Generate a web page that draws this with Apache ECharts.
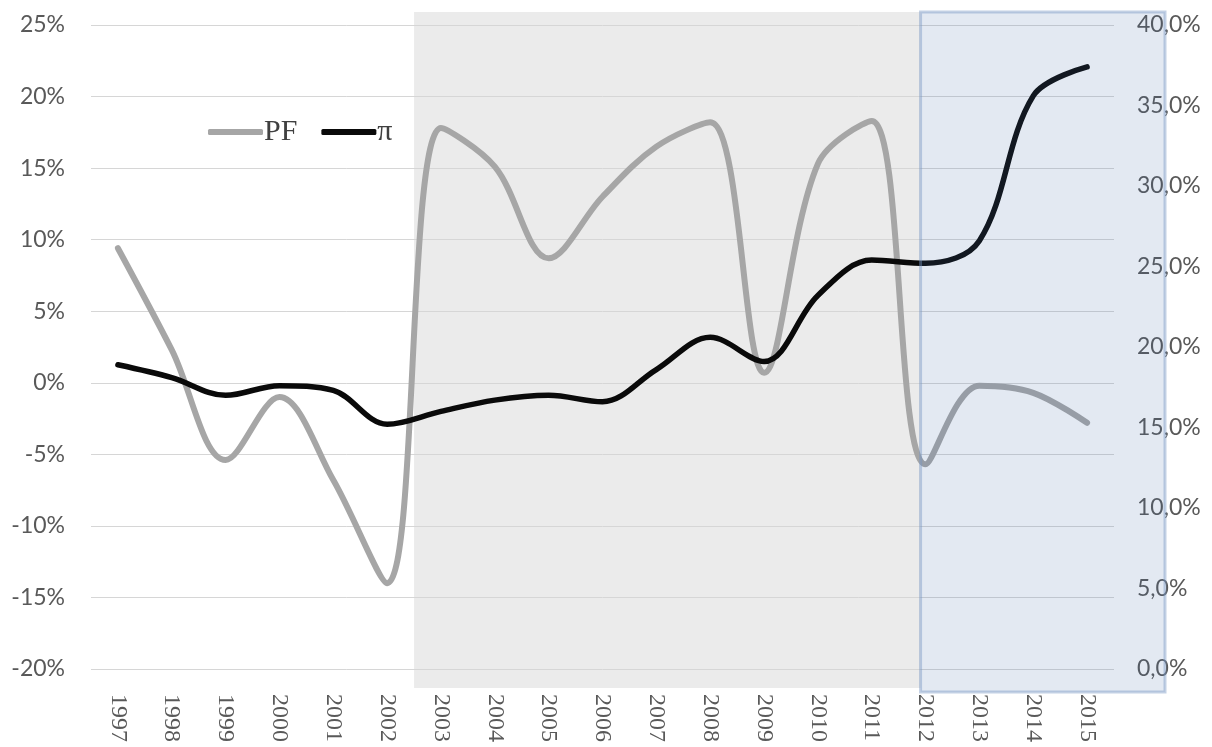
<!DOCTYPE html>
<html>
<head>
<meta charset="utf-8">
<script src="https://cdn.jsdelivr.net/npm/echarts@6/dist/echarts.min.js"></script>
<style>
html,body{margin:0;padding:0;background:#fff;}
#chart{width:1212px;height:747px;}
</style>
</head>
<body>
<div id="chart"></div>
<script>
const years = ['1997','1998','1999','2000','2001','2002','2003','2004','2005','2006','2007','2008','2009','2010','2011','2012','2013','2014','2015'];
const pfValues = [9.4, 2.3, -5.4, -1.0, -6.8, -14.0, 17.8, 15.1, 8.7, 13.0, 16.5, 18.2, 0.7, 15.3, 18.3, -5.7, -0.2, -0.7, -2.8];
const piValues = [18.9, 18.1, 17.0, 17.6, 17.3, 15.2, 16.0, 16.7, 17.0, 16.6, 18.6, 20.6, 19.1, 23.2, 25.4, 25.2, 26.6, 35.6, 37.4];
const leftTicks = {min: -20, max: 25, interval: 5};
const rightTicks = {min: 0, max: 40, interval: 5};
const seriesNames = ['PF', 'π'];
const grayStart = ['2002', '2003'];
const blueStart = '2012';

const chart = echarts.init(document.getElementById('chart'), null, {renderer: 'canvas'});
const labelColor = '#595959';
const option = {
  animation: false,
  backgroundColor: '#ffffff',
  grid: {left: 91, right: 98, top: 25, bottom: 78},
  legend: {
    left: 203, top: 112,
    itemWidth: 55, itemHeight: 6, itemGap: 24,
    icon: 'roundRect',
    textStyle: {fontFamily: 'Liberation Serif', fontSize: 30, color: '#404040', padding: [0,0,0,-4]},
    data: seriesNames
  },
  xAxis: {
    type: 'category',
    data: years,
    boundaryGap: true,
    axisLine: {show: false},
    axisTick: {show: false},
    axisLabel: {rotate: -90, margin: 25, color: labelColor, fontFamily: 'Liberation Serif', fontSize: 24}
  },
  yAxis: [
    {
      type: 'value', min: leftTicks.min, max: leftTicks.max, interval: leftTicks.interval,
      axisLine: {show: false}, axisTick: {show: false},
      splitLine: {lineStyle: {color: '#d6d6d6', width: 1}},
      axisLabel: {margin: 26, color: labelColor, fontFamily: 'Lato', fontSize: 23, formatter: v => v + '%'}
    },
    {
      type: 'value', min: rightTicks.min, max: rightTicks.max, interval: rightTicks.interval,
      axisLine: {show: false}, axisTick: {show: false},
      splitLine: {show: false},
      axisLabel: {margin: 23, color: labelColor, fontFamily: 'Lato', fontSize: 23, formatter: v => v.toFixed(1).replace('.', ',') + '%'}
    }
  ],
  series: [
    {
      name: seriesNames[0], type: 'line', yAxisIndex: 0, data: pfValues,
      smooth: 0.35, symbol: 'none',
      lineStyle: {color: '#a6a6a6', width: 6, cap: 'round'},
      itemStyle: {color: '#a6a6a6'}, z: 3
    },
    {
      name: seriesNames[1], type: 'line', yAxisIndex: 1, data: piValues,
      smooth: 0.35, symbol: 'none',
      lineStyle: {color: '#0a0a0a', width: 5.5, cap: 'round'},
      itemStyle: {color: '#0a0a0a'}, z: 4
    }
  ]
};
chart.setOption(option);

function addShading() {
  const p = y => chart.convertToPixel({xAxisIndex: 0}, y);
  const rect = chart.getModel().getComponent('grid', 0).coordinateSystem.getRect();
  const gx0 = (p(grayStart[0]) + p(grayStart[1])) / 2;
  const bx0 = p(blueStart) - 5;
  const top = rect.y - 13;
  chart.setOption({
    graphic: [
      {type: 'rect', z: -10, silent: true,
       shape: {x: gx0, y: top, width: bx0 - gx0, height: rect.height + 32},
       style: {fill: '#ebebeb'}},
      {type: 'rect', z: 100, silent: true,
       shape: {x: bx0, y: top, width: rect.x + rect.width + 51 - bx0, height: rect.height + 36},
       style: {fill: 'rgba(70,110,170,0.15)', stroke: 'rgba(120,150,195,0.45)', lineWidth: 3}}
    ]
  });
}
addShading();
</script>
</body>
</html>
